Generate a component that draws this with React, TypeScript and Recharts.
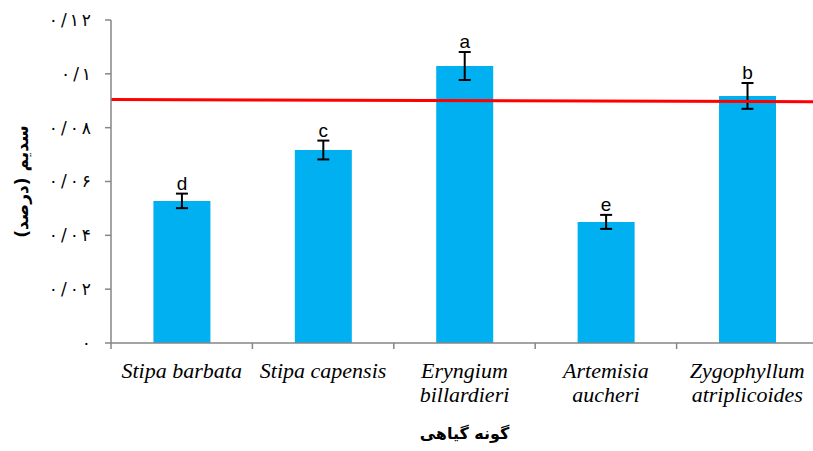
import React from 'react';
import { BarChart, Bar, XAxis, YAxis, ErrorBar, LabelList, ReferenceLine } from 'recharts';

// Sodium content (%) by plant species, with SE and Duncan groups
const SPECIES = [
  'Stipa barbata',
  'Stipa capensis',
  'Eryngium billardieri',
  'Artemisia aucheri',
  'Zygophyllum atriplicoides',
];
const SPECIES_LINES = [
  ['Stipa barbata'],
  ['Stipa capensis'],
  ['Eryngium', 'billardieri'],
  ['Artemisia', 'aucheri'],
  ['Zygophyllum', 'atriplicoides'],
];
const SODIUM = [0.0528, 0.0717, 0.1029, 0.045, 0.0918];
const SODIUM_SE = [0.0027, 0.0035, 0.0052, 0.0026, 0.0048];
const GROUPS = ['d', 'c', 'a', 'e', 'b'];

const Y_TICKS = [0, 0.02, 0.04, 0.06, 0.08, 0.1, 0.12];
const Y_TICK_LABELS = ['۰', '۰/۰۲', '۰/۰۴', '۰/۰۶', '۰/۰۸', '۰/۱', '۰/۱۲'];

// red reference line (x in category units, 0 = left edge, 5 = right edge)
const TREND_X = [0, 4.93];
const TREND_Y = [0.0905, 0.0894];

const AXIS_GRAY = '#868686';
const BAR_BLUE = '#00B0F0';

const data = SPECIES.map((name, i) => ({
  name,
  sodium: SODIUM[i],
  se: SODIUM_SE[i],
  group: GROUPS[i],
}));

const trendSegment = TREND_X.map((x, i) => ({ x, y: TREND_Y[i] }));

function SpeciesTick(props: any) {
  const { x, y, payload, index } = props;
  const half = payload?.offset ?? 70.7;
  const lines = SPECIES_LINES[index] ?? [payload.value];
  return (
    <g>
      <line x1={x - half} x2={x - half} y1={y} y2={y + 6} stroke={AXIS_GRAY} strokeWidth={1.5} />
      {index === SPECIES.length - 1 && (
        <line x1={x + half} x2={x + half} y1={y} y2={y + 6} stroke={AXIS_GRAY} strokeWidth={1.5} />
      )}
      <text
        x={x}
        y={y + 35}
        textAnchor="middle"
        fontFamily="Liberation Serif"
        fontStyle="italic"
        fontSize={22}
        fill="#000"
      >
        {lines.map((line: string, i: number) => (
          <tspan key={i} x={x} dy={i === 0 ? 0 : 24}>
            {line}
          </tspan>
        ))}
      </text>
    </g>
  );
}

// Persian tick labels, glyphs spread a little like the original
function YTick(props: any) {
  const { x, y, payload } = props;
  const label = Y_TICK_LABELS[Y_TICKS.indexOf(payload.value)] ?? '';
  const chars = Array.from(label);
  return (
    <text x={x} y={y} dy="0.35em" textAnchor="end" fontFamily="DejaVu Sans" fontSize={17} fill="#000">
      {chars.map((c, i) => (
        <tspan key={i} dx={i === 0 ? 0 : 3}>
          {c}
        </tspan>
      ))}
    </text>
  );
}

function GroupLabel(props: any) {
  const { x, y, width, height, index } = props;
  const v = SODIUM[index];
  const errPx = v ? (SODIUM_SE[index] * height) / v : 0;
  return (
    <text
      x={x + width / 2}
      y={y - errPx - 4}
      textAnchor="middle"
      fontFamily="Liberation Sans"
      fontSize={19}
      fill="#000"
    >
      {GROUPS[index]}
    </text>
  );
}

function YTitle(props: any) {
  const vb = props.viewBox || { x: 0, y: 20, width: 111, height: 323 };
  const cx = vb.x + 22;
  const cy = vb.y + vb.height / 2;
  return (
    <text
      transform={`translate(${cx},${cy}) rotate(-90)`}
      textAnchor="middle"
      dy="0.35em"
      fontFamily="DejaVu Sans"
      fontWeight="bold"
      fontSize={17}
      fill="#000"
    >
      سدیم (درصد)
    </text>
  );
}

function XTitle(props: any) {
  const vb = props.viewBox || { x: 111, y: 343, width: 707, height: 108 };
  return (
    <text
      x={vb.x + vb.width / 2}
      y={vb.y + 96}
      textAnchor="middle"
      fontFamily="DejaVu Sans"
      fontWeight="bold"
      fontSize={16}
      fill="#000"
    >
      گونه گیاهی
    </text>
  );
}

export default function App() {
  return (
    <div
      style={{
        position: 'absolute',
        left: 0,
        top: 0,
        width: 813,
        height: 451,
        overflow: 'hidden',
        background: '#fff',
      }}
    >
      <BarChart
        width={820}
        height={451}
        data={data}
        margin={{ top: 20, right: 2, left: 0, bottom: 0 }}
        barCategoryGap="30%"
      >
        <XAxis
          dataKey="name"
          height={108}
          interval={0}
          tickLine={false}
          tickSize={0}
          tickMargin={0}
          axisLine={{ stroke: AXIS_GRAY, strokeWidth: 1.5 }}
          tick={<SpeciesTick />}
          label={<XTitle />}
        />
        <XAxis xAxisId="ref" type="number" domain={[0, 5]} allowDataOverflow hide />
        <YAxis
          width={111}
          domain={[0, 0.12]}
          ticks={Y_TICKS}
          interval={0}
          tickSize={6}
          tickMargin={14}
          tickLine={{ stroke: AXIS_GRAY, strokeWidth: 1.5 }}
          axisLine={{ stroke: AXIS_GRAY, strokeWidth: 1.5 }}
          tick={<YTick />}
          label={<YTitle />}
        />
        <Bar dataKey="sodium" fill={BAR_BLUE} isAnimationActive={false}>
          <ErrorBar dataKey="se" width={6} stroke="#000" strokeWidth={2} direction="y" />
          <LabelList dataKey="group" content={<GroupLabel />} />
        </Bar>
        <ReferenceLine
          xAxisId="ref"
          segment={trendSegment}
          stroke="#FF0000"
          strokeWidth={3}
          ifOverflow="visible"
        />
      </BarChart>
    </div>
  );
}
